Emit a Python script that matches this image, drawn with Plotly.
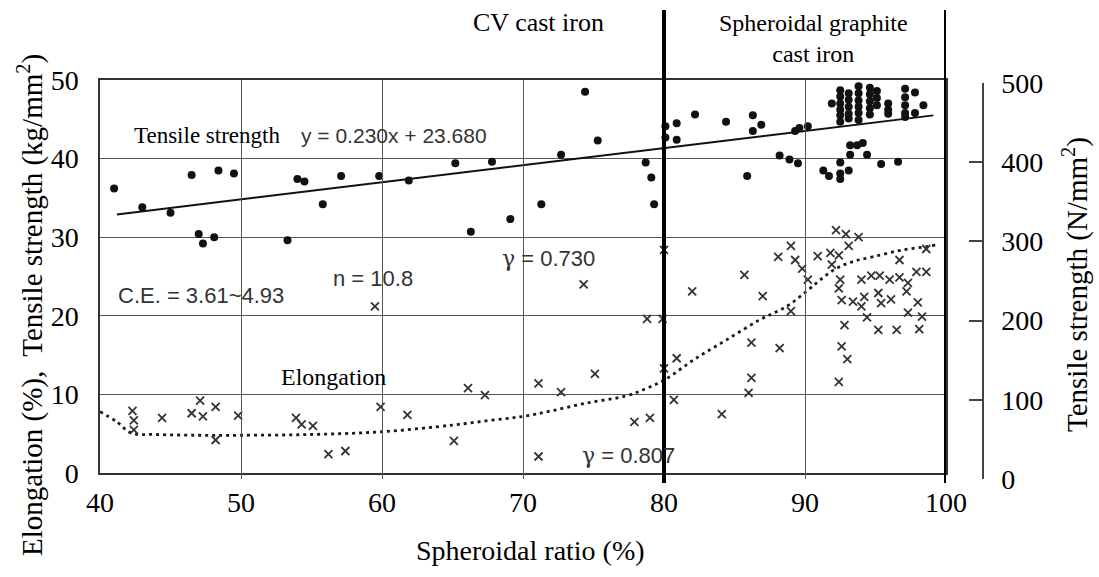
import plotly.graph_objects as go

# ---------------- data ----------------
x_ticks = [40, 50, 60, 70, 80, 90, 100]
left_ticks = [0, 10, 20, 30, 40, 50]
right_ticks = [0, 100, 200, 300, 400, 500]
phase_boundaries = [80, 100]

tensile_x = [41.0, 43.0, 45.0, 46.5, 47.0, 47.3, 48.1, 48.4, 49.5, 53.3, 54.0, 54.5,
             55.8, 57.1, 59.8, 61.9, 65.2, 66.3, 67.8, 69.1, 71.3, 72.7, 74.4, 75.3,
             78.7, 79.1, 79.3, 80.1, 80.1, 80.9, 80.9, 82.2, 84.4, 85.9, 86.3, 86.9,
             86.3, 88.2, 88.9, 89.5, 89.3, 89.6, 90.2, 91.3, 91.7, 92.5, 92.5, 92.5,
             93.1, 93.2, 93.2, 93.7, 94.1, 94.4, 95.4, 96.6,
             91.9, 92.5, 92.5, 92.5, 92.5, 92.5, 92.5,
             93.1, 93.1, 93.1, 93.1, 93.1,
             93.8, 93.8, 93.8, 93.8, 93.8, 93.8,
             94.6, 94.6, 94.6, 94.6, 94.6,
             95.1, 95.1, 95.1, 95.9, 95.9, 95.9,
             97.1, 97.1, 97.1, 97.1, 97.1,
             97.8, 97.8, 98.4]
tensile_y = [36.2, 33.8, 33.1, 37.9, 30.4, 29.2, 30.0, 38.5, 38.1, 29.6, 37.4, 37.1,
             34.2, 37.8, 37.8, 37.2, 39.4, 30.7, 39.6, 32.3, 34.2, 40.5, 48.5, 42.3,
             39.5, 37.6, 34.2, 44.1, 42.7, 44.5, 42.4, 45.6, 44.7, 37.8, 45.5, 44.3,
             43.5, 40.4, 39.9, 39.4, 43.5, 43.9, 44.1, 38.5, 37.8, 39.5, 38.1, 37.4,
             38.5, 40.5, 41.7, 41.7, 42.0, 40.5, 39.3, 39.6,
             47.0, 48.7, 47.9, 47.0, 46.2, 45.5, 44.7,
             48.3, 47.5, 46.6, 45.7, 45.1,
             49.2, 48.3, 47.4, 46.6, 45.8, 44.9,
             49.0, 48.2, 47.3, 46.4, 45.6,
             48.6, 47.7, 46.8, 47.0, 46.2, 45.7,
             48.9, 47.8, 46.8, 45.8, 45.3,
             48.4, 45.8, 46.8]

elong_x = [42.3, 42.4, 42.4, 44.4, 46.5, 47.1, 47.3, 48.2, 48.2, 49.8, 53.9, 54.3,
           55.1, 56.2, 57.4, 59.5, 59.9, 61.8, 65.1, 66.1, 67.3, 71.1, 71.1, 72.7,
           74.3, 75.1, 77.9, 79.0, 78.8, 79.9, 80.0, 80.0, 80.9, 80.7, 82.0, 84.1,
           85.7, 86.2, 86.2, 86.0, 87.0, 88.1, 88.2, 89.0, 89.3, 89.8, 90.2, 89.0,
           90.9, 91.8, 92.4, 93.1, 91.9, 92.5, 92.4, 92.6, 93.4, 94.0, 94.7, 95.3,
           96.0, 96.7, 97.3, 94.2, 94.0, 95.2, 95.4, 96.1, 97.2, 98.0, 97.3, 98.3,
           94.4, 92.8, 95.2, 96.5, 98.1, 92.6, 93.0, 92.4, 96.7, 97.9, 98.6, 98.6,
           92.2, 92.9, 93.8]
elong_y = [7.9, 6.7, 5.5, 7.0, 7.6, 9.2, 7.2, 8.4, 4.2, 7.3, 7.0, 6.2,
           6.0, 2.4, 2.8, 21.2, 8.4, 7.4, 4.1, 10.8, 9.9, 11.4, 2.1, 10.3,
           24.0, 12.6, 6.5, 7.0, 19.6, 19.6, 28.4, 13.3, 14.6, 9.3, 23.1, 7.5,
           25.2, 16.6, 12.1, 10.2, 22.5, 27.5, 15.9, 28.9, 27.1, 26.0, 24.6, 20.6,
           27.6, 28.0, 27.7, 28.9, 26.5, 24.6, 23.5, 22.0, 21.8, 24.6, 25.1, 25.1,
           24.6, 24.9, 24.2, 22.4, 21.2, 22.9, 21.6, 22.1, 23.1, 21.7, 20.4, 19.9,
           19.8, 18.8, 18.2, 18.2, 18.3, 16.1, 14.5, 11.6, 27.1, 25.6, 25.6, 28.5,
           30.9, 30.4, 30.0]

fit_x = [41.2, 99.1]
fit_y = [32.9, 45.5]

curve_x = [40, 41.2, 42.2, 44, 47, 50, 55, 60, 65, 67.7, 70, 72, 74.5, 77.3, 78.8,
           80.1, 82.1, 84.4, 86.8, 88.7, 90.1, 91.1, 92.2, 93.4, 94.8, 96.7, 98.6, 99.3]
curve_y = [7.8, 6.5, 5.1, 4.9, 4.8, 4.8, 4.9, 5.25, 6.1, 6.7, 7.2, 7.9, 8.9, 9.8, 10.8,
           11.9, 14.4, 16.9, 19.5, 21.2, 23.1, 24.6, 26.0, 26.9, 27.5, 28.3, 28.8, 29.0]

# ---------------- layout helpers ----------------
W, H = 1099, 577
ML, MR, MT, MB = 100, 116, 80, 97
PW = W - ML - MR
PH = H - MT - MB
BOT = H - MB


def px(x):
    return (x - ML) / PW


def py(y):
    return (BOT - y) / PH


SERIF = "Liberation Serif"
SANS = "Liberation Sans"

fig = go.Figure()

fig.add_trace(go.Scatter(x=curve_x, y=curve_y, mode="lines",
                         line=dict(color="#1a1a1a", width=2.8, dash="3px,4px", shape="spline"),
                         showlegend=False, hoverinfo="skip"))
fig.add_trace(go.Scatter(x=fit_x, y=fit_y, mode="lines",
                         line=dict(color="#111", width=2),
                         showlegend=False, hoverinfo="skip"))
fig.add_trace(go.Scatter(x=elong_x, y=elong_y, mode="markers",
                         marker=dict(symbol="x-thin-open", size=8, color="#333",
                                     line=dict(color="#333", width=1.8)),
                         showlegend=False))
fig.add_trace(go.Scatter(x=tensile_x, y=tensile_y, mode="markers",
                         marker=dict(symbol="circle", size=8, color="#111"),
                         showlegend=False))
# invisible helper so the right-hand (N/mm2) axis is drawn
fig.add_trace(go.Scatter(x=[x_ticks[0]] * len(right_ticks), y=right_ticks, yaxis="y2",
                         mode="markers", marker=dict(opacity=0), showlegend=False,
                         hoverinfo="skip"))

shapes = []
for xb in phase_boundaries:
    shapes.append(dict(type="line", xref="x", yref="paper", x0=xb, x1=xb,
                       y0=py(483), y1=py(10), line=dict(color="black", width=4),
                       layer="above"))

ann = []


def add_text(text, x, y, font, size, color="black", angle=0):
    ann.append(dict(text=text, x=px(x), y=py(y), xref="paper", yref="paper",
                    showarrow=False, xanchor="center", yanchor="middle",
                    textangle=angle, font=dict(family=font, size=size, color=color)))


GAMMA = '<span style="font-family:DejaVu Serif">γ</span>'

add_text("Tensile strength", 207, 135, SERIF, 23)
add_text("y = 0.230x + 23.680", 394, 135, SANS, 21, "#333")
add_text("C.E. = 3.61~4.93", 201, 295, SANS, 22, "#333")
add_text("n = 10.8", 373, 278, SANS, 22, "#333")
add_text(GAMMA + " = 0.730", 548, 258, SANS, 22, "#333")
add_text(GAMMA + " = 0.807", 628, 455, SANS, 22, "#333")
add_text("Elongation", 333, 377, SERIF, 24)
add_text("CV cast iron", 538, 23, SERIF, 26)
add_text("Spheroidal graphite<br>cast iron", 813, 39, SERIF, 24)
add_text("Elongation (%),  Tensile strength (kg/mm<sup>2</sup>)", 30, 305, SERIF, 29, angle=-90)
add_text("Tensile strength (N/mm<sup>2</sup>)", 1075, 285, SERIF, 29, angle=-90)
add_text("Spheroidal ratio (%)", 530, 550, SERIF, 28)

fig.update_layout(
    width=W, height=H,
    margin=dict(l=ML, r=MR, t=MT, b=MB, pad=0),
    paper_bgcolor="white", plot_bgcolor="rgba(0,0,0,0)",
    showlegend=False,
    shapes=shapes, annotations=ann,
    xaxis=dict(domain=[0, px(946)], range=[40, 100], tickvals=x_ticks,
               showgrid=True, gridcolor="#555", gridwidth=1.3,
               showline=True, linecolor="#333", linewidth=1.5, mirror=True,
               ticks="", zeroline=False, ticklabelstandoff=4,
               tickfont=dict(family=SERIF, size=28, color="black")),
    yaxis=dict(domain=[py(473), 1], range=[0, 50], tickvals=left_ticks,
               showgrid=True, gridcolor="#555", gridwidth=1.3,
               showline=True, linecolor="#333", linewidth=1.5, mirror=True,
               ticks="", zeroline=False, ticklabelstandoff=14,
               tickfont=dict(family=SERIF, size=28, color="black")),
    yaxis2=dict(domain=[py(479), py(83)], range=[0, 500], tickvals=right_ticks,
                anchor="free", position=px(983), side="right",
                showgrid=False, zeroline=False,
                showline=True, linecolor="#444", linewidth=1.5,
                ticks="inside", ticklen=13, tickwidth=1.5, tickcolor="#444",
                ticklabelstandoff=12,
                tickfont=dict(family=SERIF, size=28, color="black")),
)

fig.write_html("out.html")
